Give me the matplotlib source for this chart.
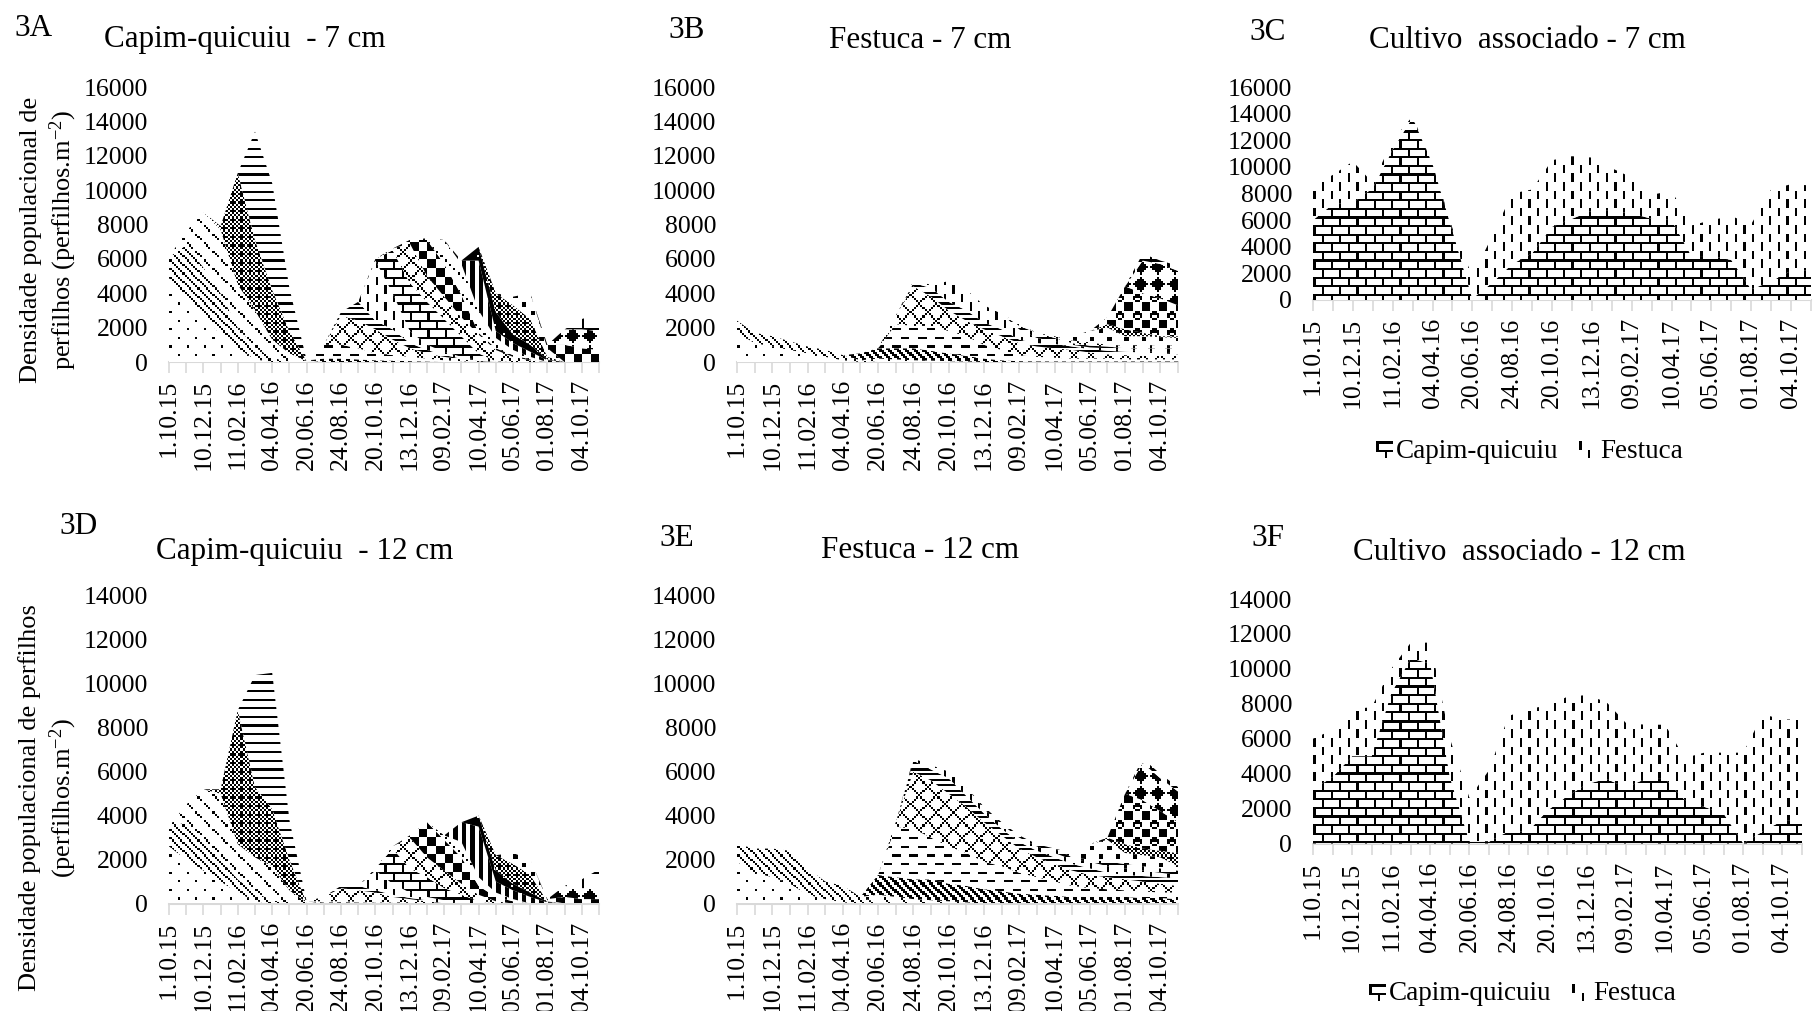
"""Tiller density stacked area panels (3A-3F) with Excel style fill patterns."""
import numpy as np
import matplotlib
matplotlib.use("Agg")
import matplotlib.pyplot as plt

plt.rcParams['font.family'] = ['Liberation Serif', 'DejaVu Serif']
plt.rcParams['mathtext.fontset'] = 'custom'
plt.rcParams['mathtext.rm'] = 'Liberation Serif'
plt.rcParams['mathtext.default'] = 'regular'

W, H = 1814, 1011

tick_labels = ['1.10.15', '', '10.12.15', '', '11.02.16', '', '04.04.16', '', '20.06.16', '',
               '24.08.16', '', '20.10.16', '', '13.12.16', '', '09.02.17', '', '10.04.17', '',
               '05.06.17', '', '01.08.17', '', '04.10.17', '']

# stacked tops, one list per tiller generation (0 = not present)
A01 = [4900, 3800, 2700, 1600, 800, 150, 0, 0, 0, 0, 0, 0, 0, 0, 0, 0, 0, 0, 0, 0, 0, 0, 0, 0, 0, 0]
A02 = [6100, 6800, 5500, 4000, 2000, 850, 250, 0, 0, 0, 0, 0, 0, 0, 0, 0, 0, 0, 0, 0, 0, 0, 0, 0, 0, 0]
A03 = [6100, 7600, 8700, 7700, 4500, 3000, 1300, 500, 50, 0, 0, 0, 0, 0, 0, 0, 0, 0, 0, 0, 0, 0, 0, 0, 0, 0]
A04 = [0, 0, 0, 7900, 11000, 7100, 4200, 1800, 50, 0, 0, 0, 0, 0, 0, 0, 0, 0, 0, 0, 0, 0, 0, 0, 0, 0]
A05 = [0, 0, 0, 0, 11000, 13400, 10400, 4300, 100, 0, 0, 0, 0, 0, 0, 0, 0, 0, 0, 0, 0, 0, 0, 0, 0, 0]
A06 = [0, 0, 0, 0, 0, 0, 0, 0, 0, 200, 200, 150, 100, 80, 50, 30, 0, 0, 0, 0, 0, 0, 0, 0, 0, 0]
A07 = [0, 0, 0, 0, 0, 0, 0, 0, 0, 1000, 1000, 800, 500, 400, 300, 200, 100, 50, 0, 0, 0, 0, 0, 0, 0, 0]
A08 = [0, 0, 0, 0, 0, 0, 0, 0, 0, 1000, 2700, 2400, 1900, 1300, 800, 500, 300, 150, 50, 0, 0, 0, 0, 0, 0, 0]
A09 = [0, 0, 0, 0, 0, 0, 0, 0, 0, 0, 2900, 3500, 2400, 1900, 1100, 700, 400, 200, 80, 0, 0, 0, 0, 0, 0, 0]
A10 = [0, 0, 0, 0, 0, 0, 0, 0, 0, 0, 0, 0, 5900, 4000, 1800, 1000, 600, 300, 100, 0, 0, 0, 0, 0, 0, 0]
A11 = [0, 0, 0, 0, 0, 0, 0, 0, 0, 0, 0, 0, 6000, 6500, 4600, 3500, 2500, 1500, 500, 50, 0, 0, 0, 0, 0, 0]
A12 = [0, 0, 0, 0, 0, 0, 0, 0, 0, 0, 0, 0, 0, 6600, 6900, 5000, 3800, 2600, 1600, 700, 300, 100, 0, 0, 0, 0]
A13 = [0, 0, 0, 0, 0, 0, 0, 0, 0, 0, 0, 0, 0, 0, 7100, 7100, 5700, 3900, 1700, 800, 400, 150, 0, 0, 0, 0]
A14 = [0, 0, 0, 0, 0, 0, 0, 0, 0, 0, 0, 0, 0, 0, 0, 7200, 7100, 5700, 3000, 1400, 700, 300, 0, 0, 0, 0]
A15 = [0, 0, 0, 0, 0, 0, 0, 0, 0, 0, 0, 0, 0, 0, 0, 0, 0, 5900, 5900, 1800, 1100, 600, 100, 0, 0, 0]
A16 = [0, 0, 0, 0, 0, 0, 0, 0, 0, 0, 0, 0, 0, 0, 0, 0, 0, 0, 6700, 2900, 1600, 1000, 150, 0, 0, 0]
A17 = [0, 0, 0, 0, 0, 0, 0, 0, 0, 0, 0, 0, 0, 0, 0, 0, 0, 0, 0, 4000, 3300, 2500, 300, 0, 0, 0]
A18 = [0, 0, 0, 0, 0, 0, 0, 0, 0, 0, 0, 0, 0, 0, 0, 0, 0, 0, 0, 0, 3800, 4000, 800, 0, 0, 0]
A19 = [0, 0, 0, 0, 0, 0, 0, 0, 0, 0, 0, 0, 0, 0, 0, 0, 0, 0, 0, 0, 0, 0, 1000, 1000, 800, 700]
A20 = [0, 0, 0, 0, 0, 0, 0, 0, 0, 0, 0, 0, 0, 0, 0, 0, 0, 0, 0, 0, 0, 0, 0, 1900, 1900, 1800]
A21 = [0, 0, 0, 0, 0, 0, 0, 0, 0, 0, 0, 0, 0, 0, 0, 0, 0, 0, 0, 0, 0, 0, 0, 1900, 2500, 2800]

D01 = [2600, 2000, 1500, 1000, 500, 100, 0, 0, 0, 0, 0, 0, 0, 0, 0, 0, 0, 0, 0, 0, 0, 0, 0, 0, 0, 0]
D02 = [3500, 3700, 2900, 2000, 1100, 500, 150, 0, 0, 0, 0, 0, 0, 0, 0, 0, 0, 0, 0, 0, 0, 0, 0, 0, 0, 0]
D03 = [3500, 4500, 5200, 5000, 2700, 2100, 1700, 600, 50, 0, 0, 0, 0, 0, 0, 0, 0, 0, 0, 0, 0, 0, 0, 0, 0, 0]
D04 = [0, 0, 0, 5200, 8800, 5300, 4300, 2000, 30, 0, 0, 0, 0, 0, 0, 0, 0, 0, 0, 0, 0, 0, 0, 0, 0, 0]
D05 = [0, 0, 0, 0, 8800, 10400, 10500, 3800, 100, 0, 0, 0, 0, 0, 0, 0, 0, 0, 0, 0, 0, 0, 0, 0, 0, 0]
D06 = [0, 0, 0, 0, 0, 0, 0, 0, 0, 50, 60, 50, 40, 30, 0, 0, 0, 0, 0, 0, 0, 0, 0, 0, 0, 0]
D07 = [0, 0, 0, 0, 0, 0, 0, 0, 0, 100, 100, 80, 60, 50, 30, 0, 0, 0, 0, 0, 0, 0, 0, 0, 0, 0]
D08 = [0, 0, 0, 0, 0, 0, 0, 0, 0, 300, 700, 600, 500, 300, 200, 100, 0, 0, 0, 0, 0, 0, 0, 0, 0, 0]
D09 = [0, 0, 0, 0, 0, 0, 0, 0, 0, 0, 800, 800, 600, 400, 250, 150, 0, 0, 0, 0, 0, 0, 0, 0, 0, 0]
D10 = [0, 0, 0, 0, 0, 0, 0, 0, 0, 0, 0, 0, 1500, 900, 500, 300, 150, 0, 0, 0, 0, 0, 0, 0, 0, 0]
D11 = [0, 0, 0, 0, 0, 0, 0, 0, 0, 0, 0, 0, 1600, 2500, 1600, 1200, 700, 400, 100, 0, 0, 0, 0, 0, 0, 0]
D12 = [0, 0, 0, 0, 0, 0, 0, 0, 0, 0, 0, 0, 0, 2600, 3000, 2100, 1500, 900, 400, 100, 0, 0, 0, 0, 0, 0]
D13 = [0, 0, 0, 0, 0, 0, 0, 0, 0, 0, 0, 0, 0, 0, 3100, 3700, 2900, 2100, 800, 300, 100, 0, 0, 0, 0, 0]
D14 = [0, 0, 0, 0, 0, 0, 0, 0, 0, 0, 0, 0, 0, 0, 0, 3700, 3100, 2800, 1200, 500, 200, 0, 0, 0, 0, 0]
D15 = [0, 0, 0, 0, 0, 0, 0, 0, 0, 0, 0, 0, 0, 0, 0, 0, 0, 3700, 3500, 1000, 600, 300, 50, 0, 0, 0]
D16 = [0, 0, 0, 0, 0, 0, 0, 0, 0, 0, 0, 0, 0, 0, 0, 0, 0, 0, 4000, 1500, 900, 500, 80, 0, 0, 0]
D17 = [0, 0, 0, 0, 0, 0, 0, 0, 0, 0, 0, 0, 0, 0, 0, 0, 0, 0, 0, 2200, 1800, 1300, 100, 0, 0, 0]
D18 = [0, 0, 0, 0, 0, 0, 0, 0, 0, 0, 0, 0, 0, 0, 0, 0, 0, 0, 0, 2200, 2300, 2000, 150, 0, 0, 0]
D19 = [0, 0, 0, 0, 0, 0, 0, 0, 0, 0, 0, 0, 0, 0, 0, 0, 0, 0, 0, 0, 0, 0, 200, 300, 200, 200]
D20 = [0, 0, 0, 0, 0, 0, 0, 0, 0, 0, 0, 0, 0, 0, 0, 0, 0, 0, 0, 0, 0, 0, 0, 800, 700, 700]
D21 = [0, 0, 0, 0, 0, 0, 0, 0, 0, 0, 0, 0, 0, 0, 0, 0, 0, 0, 0, 0, 0, 0, 0, 800, 1100, 1550]

B01 = [1700, 1100, 900, 700, 500, 300, 100, 0, 0, 0, 0, 0, 0, 0, 0, 0, 0, 0, 0, 0, 0, 0, 0, 0, 0, 0]
B02 = [2400, 1700, 1500, 1200, 900, 700, 400, 100, 0, 0, 0, 0, 0, 0, 0, 0, 0, 0, 0, 0, 0, 0, 0, 0, 0, 0]
B03 = [0, 0, 0, 0, 0, 0, 0, 100, 200, 150, 100, 80, 50, 30, 0, 0, 0, 0, 0, 0, 0, 0, 0, 0, 0, 0]
B04 = [0, 0, 0, 0, 0, 0, 0, 500, 800, 800, 800, 650, 500, 350, 200, 100, 50, 40, 40, 40, 40, 40, 40, 40, 40, 40]
B05 = [0, 0, 0, 0, 0, 0, 0, 0, 800, 2200, 2100, 2100, 1800, 1500, 1000, 700, 400, 300, 250, 200, 200, 200, 150, 150, 150, 150]
B06 = [0, 0, 0, 0, 0, 0, 0, 0, 0, 2700, 4400, 3800, 3000, 2400, 1900, 1500, 1100, 900, 800, 700, 550, 450, 400, 350, 350, 350]
B07 = [0, 0, 0, 0, 0, 0, 0, 0, 0, 0, 4600, 4300, 3500, 3000, 2300, 1900, 1300, 1100, 1050, 900, 750, 650, 600, 550, 500, 450]
B08 = [0, 0, 0, 0, 0, 0, 0, 0, 0, 0, 4700, 4500, 4700, 4200, 3300, 2800, 1900, 1400, 1200, 1000, 850, 800, 700, 650, 600, 550]
B09 = [0, 0, 0, 0, 0, 0, 0, 0, 0, 0, 0, 0, 0, 0, 0, 0, 2100, 1700, 1400, 1100, 950, 900, 800, 800, 800, 800]
B10 = [0, 0, 0, 0, 0, 0, 0, 0, 0, 0, 0, 0, 0, 0, 0, 0, 2200, 1700, 1500, 1250, 1150, 1000, 950, 950, 1000, 950]
B11 = [0, 0, 0, 0, 0, 0, 0, 0, 0, 0, 0, 0, 0, 0, 0, 0, 0, 0, 0, 1500, 1800, 2000, 1500, 1500, 1450, 1400]
B12 = [0, 0, 0, 0, 0, 0, 0, 0, 0, 0, 0, 0, 0, 0, 0, 0, 0, 0, 0, 0, 0, 2200, 1900, 1700, 1500, 1500]
B13 = [0, 0, 0, 0, 0, 0, 0, 0, 0, 0, 0, 0, 0, 0, 0, 0, 0, 0, 0, 0, 1800, 2600, 4400, 4000, 3700, 3300]
B14 = [0, 0, 0, 0, 0, 0, 0, 0, 0, 0, 0, 0, 0, 0, 0, 0, 0, 0, 0, 0, 0, 0, 4400, 5900, 5700, 5300]
B15 = [0, 0, 0, 0, 0, 0, 0, 0, 0, 0, 0, 0, 0, 0, 0, 0, 0, 0, 0, 0, 0, 0, 0, 6300, 5900, 5600]

E01 = [1900, 1400, 1200, 900, 400, 200, 50, 0, 0, 0, 0, 0, 0, 0, 0, 0, 0, 0, 0, 0, 0, 0, 0, 0, 0, 0]
E02 = [2700, 2500, 2500, 2400, 1600, 1000, 800, 300, 0, 0, 0, 0, 0, 0, 0, 0, 0, 0, 0, 0, 0, 0, 0, 0, 0, 0]
E03 = [0, 0, 0, 0, 0, 0, 0, 200, 400, 300, 200, 150, 100, 50, 0, 0, 0, 0, 0, 0, 0, 0, 0, 0, 0, 0]
E04 = [0, 0, 0, 0, 0, 0, 0, 300, 1300, 1200, 1100, 1100, 900, 800, 650, 550, 450, 400, 350, 300, 300, 300, 300, 250, 250, 200]
E05 = [0, 0, 0, 0, 0, 0, 0, 0, 1300, 3500, 3400, 3000, 2600, 2300, 1900, 1700, 1400, 1200, 1000, 800, 700, 650, 600, 550, 500, 500]
E06 = [0, 0, 0, 0, 0, 0, 0, 0, 0, 3700, 6000, 5600, 5000, 4400, 3700, 3100, 2500, 2100, 1800, 1500, 1300, 1200, 1100, 1000, 900, 800]
E07 = [0, 0, 0, 0, 0, 0, 0, 0, 0, 0, 6500, 6100, 5700, 4900, 4100, 3400, 2800, 2400, 2100, 1800, 1600, 1400, 1300, 1250, 1200, 1150]
E08 = [0, 0, 0, 0, 0, 0, 0, 0, 0, 0, 6600, 6300, 6000, 5300, 4300, 3600, 3000, 2600, 2300, 2000, 1900, 1700, 1600, 1500, 1400, 1300]
E09 = [0, 0, 0, 0, 0, 0, 0, 0, 0, 0, 0, 0, 0, 0, 4400, 3700, 3100, 2700, 2500, 2100, 2000, 1900, 1800, 1700, 1600, 1500]
E10 = [0, 0, 0, 0, 0, 0, 0, 0, 0, 0, 0, 0, 0, 0, 0, 0, 0, 0, 0, 2300, 2700, 2900, 2300, 2200, 2100, 1700]
E11 = [0, 0, 0, 0, 0, 0, 0, 0, 0, 0, 0, 0, 0, 0, 0, 0, 0, 0, 0, 0, 0, 3000, 2700, 2500, 2400, 2300]
E12 = [0, 0, 0, 0, 0, 0, 0, 0, 0, 0, 0, 0, 0, 0, 0, 0, 0, 0, 0, 0, 0, 3000, 5000, 4700, 4200, 3700]
E13 = [0, 0, 0, 0, 0, 0, 0, 0, 0, 0, 0, 0, 0, 0, 0, 0, 0, 0, 0, 0, 0, 0, 5000, 6400, 5700, 5100]
E14 = [0, 0, 0, 0, 0, 0, 0, 0, 0, 0, 0, 0, 0, 0, 0, 0, 0, 0, 0, 0, 0, 0, 0, 6600, 5900, 5300]

C_quicuiu = [6000, 7200, 7300, 8400, 11300, 13700, 10200, 5200, 100, 1300, 2700, 3500, 5500, 6100, 6700, 6700, 6500, 6100, 6000, 3300, 3300, 3000, 800, 1400, 2200, 2200]
C_festuca = [8600, 9400, 10400, 8800, 12000, 13800, 10200, 5400, 1800, 4800, 8000, 8300, 10500, 10800, 10700, 9900, 9200, 7900, 8200, 5600, 6000, 6300, 5700, 8300, 8700, 8600]
F_quicuiu = [3100, 3800, 5000, 5000, 8600, 10600, 10300, 3800, 100, 100, 700, 700, 1900, 2700, 3400, 3700, 3200, 3700, 3700, 2500, 2100, 1700, 0, 700, 1300, 1300]
F_festuca = [6000, 6500, 7700, 7800, 10000, 11500, 11500, 6000, 2600, 4200, 7300, 7700, 7900, 8400, 8500, 8100, 6900, 6800, 6800, 4900, 5200, 5200, 5200, 7400, 7100, 7100]

y_max_7 = 16000
y_max_12 = 14000


def tile(*rows):
    return np.array([[c == '#' for c in r] for r in rows], dtype=float)


DOTS = tile('#.......', '........', '........', '........', '....#...', '........', '........', '........')
DIAG = tile('#...', '.#..', '..#.', '...#')
TRELLIS = tile('#.......', '.#......', '..#.....', '........', '....#...', '.....#..', '......#.', '........')
DENSE = tile('.#.#', '###.', '.#.#', '#.#.')
HLINES = tile('######', '......', '......', '......')
BOLD_DIAG = tile('##..', '.##.', '..##', '#..#')
DASHES = tile('####....', '........', '........', '........', '....####', '........', '........', '........')
LATTICE = tile('#.......', '.#.....#', '..#...#.', '...#.#..', '....#...', '...#.#..', '..#...#.', '.#.....#')
HBAND = tile('#', '.', '#', '.', '.')
VDASH = tile('#.......', '#.......', '#.......', '#.......', '....#...', '....#...', '....#...', '....#...')
BRICK = tile('########', '#.......', '#.......', '#.......', '########', '....#...', '....#...', '....#...')
CHECK = tile('####....', '####....', '####....', '####....', '....####', '....####', '....####', '....####')
DOT_DIAG = tile('#.......', '........', '..#.....', '........', '....#...', '........', '......#.', '........')
BARS = tile('##..', '##..')
BLACK = tile('########', '########', '###.####', '########', '########', '########', '#######.', '########')
SQUARES = tile('##......', '##......', '........', '........', '....##..', '....##..', '........', '........')
SPHERE = tile('.##.....', '####....', '#..#....', '.##.....', '....####', '....####', '....####', '....####')
DIAMOND = tile('...#....', '..###...', '.#####..', '#######.', '.#####..', '..###...', '...#....', '........')
PLUS = tile('########', '#.......', '#.......', '#.......', '#.......', '#.......', '#.......', '#.......')

# pattern of every band, same order as the lists
patterns_ad = [DOTS, DIAG, TRELLIS, DENSE, HLINES, BOLD_DIAG, DASHES, LATTICE, HBAND, VDASH, BRICK,
               LATTICE, CHECK, DOT_DIAG, BARS, BLACK, DENSE, SQUARES, CHECK, DIAMOND, PLUS]
patterns_b = [DOTS, DIAG, TRELLIS, BOLD_DIAG, DASHES, LATTICE, HBAND, VDASH, BRICK, LATTICE,
              SQUARES, DENSE, SPHERE, DIAMOND, PLUS]
patterns_e = [DOTS, DIAG, TRELLIS, BOLD_DIAG, DASHES, LATTICE, HBAND, VDASH, BRICK,
              SQUARES, DENSE, SPHERE, DIAMOND, PLUS]


def texture(pattern, w, h, scale=2.15):
    """Repeat a pattern tile over a w x h pixel bitmap."""
    yy = (np.arange(h) / scale).astype(int) % pattern.shape[0]
    xx = (np.arange(w) / scale).astype(int) % pattern.shape[1]
    return 1 - pattern[np.ix_(yy, xx)]


def make_axes(fig, left, right, top, bottom, y_max, step=2000):
    ax = fig.add_axes([left / W, 1 - bottom / H, (right - left) / W, (bottom - top) / H])
    ax.set_facecolor('none')
    for side in ['top', 'right', 'left']:
        ax.spines[side].set_visible(False)
    ax.spines['bottom'].set_color('#d9d9d9')
    ax.spines['bottom'].set_linewidth(1.5)
    ax.set_xticks(np.arange(len(tick_labels)))
    ax.set_xticklabels(tick_labels, rotation=90, fontsize=18.5)
    ax.set_yticks(np.arange(0, y_max + 1, step))
    ax.tick_params(axis='x', length=8, width=1.2, color='#d9d9d9', pad=5)
    ax.tick_params(axis='y', length=0, labelsize=18.5, pad=15)
    return ax


def stacked_patterns(ax, series, patterns, y_max):
    """Draw one clipped texture per stacked band."""
    x = np.arange(len(tick_labels))
    tops = np.maximum.accumulate(np.array(series, dtype=float), axis=0)
    bbox = ax.get_position()
    w, h = int(bbox.width * W), int(bbox.height * H)
    lower = np.zeros(len(x))
    for upper, pattern in zip(tops, patterns):
        band = ax.fill_between(x, lower, upper, facecolor='white', edgecolor='none', linewidth=0, zorder=2)
        im = ax.imshow(texture(pattern, w, h), extent=(0, 25, 0, y_max), cmap='gray', vmin=0, vmax=1,
                       aspect='auto', interpolation='nearest', zorder=3)
        im.set_clip_path(band.get_paths()[0], transform=ax.transData)
        lower = upper
    ax.set_xlim(0, 25)
    ax.set_ylim(0, y_max)


def legend_key(fig, left, top, pattern):
    key = fig.add_axes([left / W, 1 - (top + 17) / H, 17 / W, 17 / H])
    key.imshow(texture(pattern, 17, 17), cmap='gray', vmin=0, vmax=1, interpolation='nearest', aspect='auto')
    key.axis('off')


def put(fig, x, y, s, size, **kw):
    fig.text(x / W, 1 - y / H, s, fontsize=size, ha=kw.pop('ha', 'center'), va='center', **kw)


fig = plt.figure(figsize=(W / 100, H / 100), dpi=100, facecolor='white')

ax_a = make_axes(fig, 169, 599, 87, 362, y_max_7)
ax_b = make_axes(fig, 737, 1178, 87, 362, y_max_7)
ax_c = make_axes(fig, 1313, 1811, 87, 300, y_max_7)
ax_d = make_axes(fig, 169, 599, 596, 903.5, y_max_12)
ax_e = make_axes(fig, 737, 1178, 596, 903.5, y_max_12)
ax_f = make_axes(fig, 1313, 1802, 599, 843.5, y_max_12)

stacked_patterns(ax_a, [A01, A02, A03, A04, A05, A06, A07, A08, A09, A10, A11, A12, A13, A14, A15, A16, A17,
                        A18, A19, A20, A21], patterns_ad, y_max_7)
stacked_patterns(ax_d, [D01, D02, D03, D04, D05, D06, D07, D08, D09, D10, D11, D12, D13, D14, D15, D16, D17,
                        D18, D19, D20, D21], patterns_ad, y_max_12)
stacked_patterns(ax_b, [B01, B02, B03, B04, B05, B06, B07, B08, B09, B10, B11, B12, B13, B14, B15],
                 patterns_b, y_max_7)
stacked_patterns(ax_e, [E01, E02, E03, E04, E05, E06, E07, E08, E09, E10, E11, E12, E13, E14],
                 patterns_e, y_max_12)
stacked_patterns(ax_c, [C_quicuiu, C_festuca], [BRICK, VDASH], y_max_7)
stacked_patterns(ax_f, [F_quicuiu, F_festuca], [BRICK, VDASH], y_max_12)

# panel tags and titles
for x, y, s in [(33, 29, '3A'), (687, 31, '3B'), (1268, 32, '3C'), (79, 526, '3D'), (677, 538, '3E'), (1268, 539, '3F')]:
    put(fig, x, y, s, 22.5)
for x, y, s in [(245, 40, 'Capim-quicuiu  - 7 cm'), (920, 40, 'Festuca - 7 cm'), (1527, 40, 'Cultivo  associado - 7 cm'),
                (305, 552, 'Capim-quicuiu  - 12 cm'), (920, 550, 'Festuca - 12 cm'), (1519, 553, 'Cultivo  associado - 12 cm')]:
    put(fig, x, y, s, 22.4)

# y axis titles
put(fig, 31, 240, 'Densidade populacional de', 19, rotation=90)
put(fig, 63, 240, 'perfilhos (perfilhos.m$^{-2}$)', 19, rotation=90)
put(fig, 30, 798, 'Densidade populacional de perfilhos', 19, rotation=90)
put(fig, 63, 798, '(perfilhos.m$^{-2}$)', 19, rotation=90)

# legends
legend_key(fig, 1376, 441, BRICK)
put(fig, 1396, 451, 'Capim-quicuiu', 19.5, ha='left')
legend_key(fig, 1579, 441, VDASH)
put(fig, 1600, 451, 'Festuca', 19.5, ha='left')
legend_key(fig, 1369, 984, BRICK)
put(fig, 1389, 994, 'Capim-quicuiu', 19.5, ha='left')
legend_key(fig, 1572, 984, VDASH)
put(fig, 1593, 994, 'Festuca', 19.5, ha='left')

fig.savefig('out.png', dpi=100, facecolor='white')
